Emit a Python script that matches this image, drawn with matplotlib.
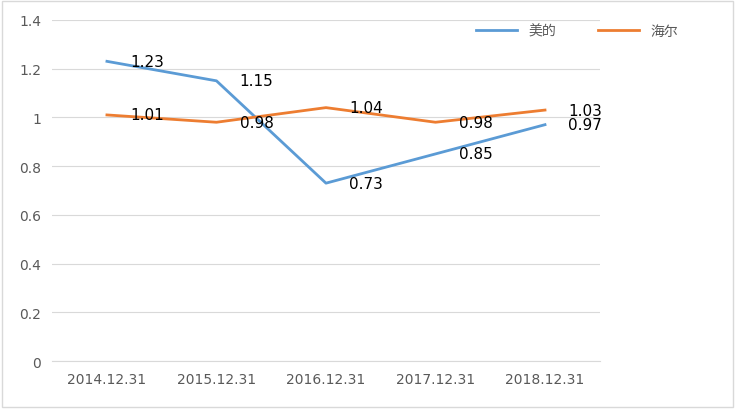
import matplotlib
matplotlib.use("Agg")
import matplotlib.pyplot as plt
from matplotlib.patches import Rectangle
from matplotlib import font_manager as fm

cjk = [f.name for f in fm.fontManager.ttflist if "CJK" in f.name]
cjk_name = "Noto Sans CJK SC" if "Noto Sans CJK SC" in cjk else (cjk[0] if cjk else "DejaVu Sans")
plt.rcParams["font.family"] = ["DejaVu Sans", cjk_name]

categories = ["2014.12.31", "2015.12.31", "2016.12.31", "2017.12.31", "2018.12.31"]
midea = [1.23, 1.15, 0.73, 0.85, 0.97]
haier = [1.01, 0.98, 1.04, 0.98, 1.03]
yticks = [0, 0.2, 0.4, 0.6, 0.8, 1, 1.2, 1.4]
ytick_labels = ["0", "0.2", "0.4", "0.6", "0.8", "1", "1.2", "1.4"]

fig = plt.figure(figsize=(7.35, 4.10), dpi=100)
fig.patches.append(Rectangle((0.003, 0.005), 0.994, 0.99, transform=fig.transFigure,
                             fill=False, edgecolor="#D9D9D9", linewidth=1))
ax = fig.add_axes([0.071, 0.117, 0.745, 0.832])
x = list(range(len(categories)))
ax.plot(x, midea, color="#5B9BD5", linewidth=2, label="美的")
ax.plot(x, haier, color="#ED7D31", linewidth=2, label="海尔")
for xi, v in zip(x, midea):
    ax.annotate(f"{v:.2f}", (xi, v), xytext=(40, 0), textcoords="offset pixels",
                ha="center", va="center", fontsize=11, color="black")
for xi, v in zip(x, haier):
    ax.annotate(f"{v:.2f}", (xi, v), xytext=(40, 0), textcoords="offset pixels",
                ha="center", va="center", fontsize=11, color="black")
ax.set_xlim(-0.5, 4.5)
ax.set_ylim(0, 1.4)
ax.set_yticks(yticks)
ax.set_yticklabels(ytick_labels)
ax.set_xticks(x)
ax.set_xticklabels(categories)
ax.grid(axis="y", color="#D9D9D9", linewidth=0.8)
ax.set_axisbelow(True)
for s in ["top", "right", "left"]:
    ax.spines[s].set_visible(False)
ax.spines["bottom"].set_color("#D9D9D9")
ax.tick_params(length=0, colors="#595959", labelsize=10, pad=8)
leg = fig.legend(loc="upper left", bbox_to_anchor=(0.63, 0.97), ncol=2, frameon=False,
                 prop=fm.FontProperties(family=cjk_name, size=10),
                 handlelength=3, columnspacing=3)
for t in leg.get_texts():
    t.set_color("#595959")
fig.savefig("out.png", dpi=100)
